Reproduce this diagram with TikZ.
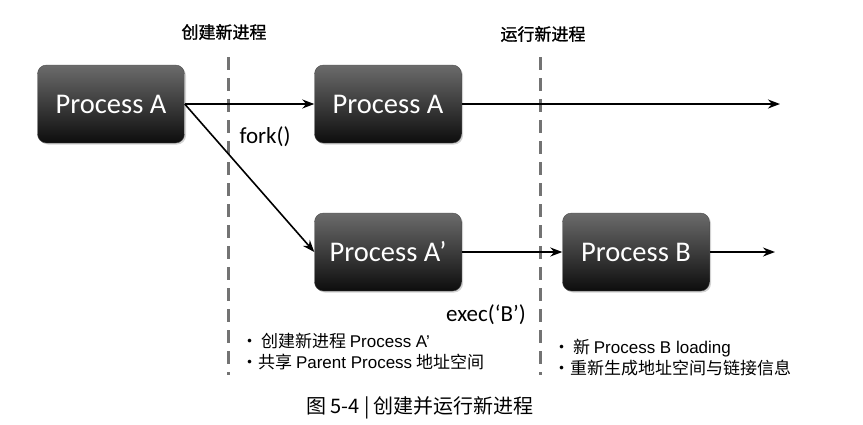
\documentclass[tikz,border=0pt]{standalone}
\usepackage{fontspec}
\setmainfont{Carlito}
\newfontfamily\cjk{Noto Sans CJK SC}
\newfontfamily\cjkhead[FakeBold=1.2]{Noto Sans CJK SC}
\newfontfamily\arialfont{Liberation Sans}
\usetikzlibrary{arrows.meta,shadows}

\tikzset{
  procbox/.style={rounded corners=9pt, top color=black!58, bottom color=black!95,
    draw=black!70, minimum width=147pt, minimum height=78pt, text=white,
    font=\fontsize{28.5}{32}\selectfont,
    drop shadow={opacity=0.35, shadow xshift=1.5pt, shadow yshift=-1.5pt}},
  flow/.style={line width=1.6pt, -{Stealth[length=12pt,width=9pt]}},
  phase/.style={black!55, line width=3pt, dash pattern=on 13pt off 8pt},
  note/.style={align=left, anchor=north west, inner sep=0pt,
    font=\fontsize{17}{21}\selectfont},
}

\begin{document}
\begin{tikzpicture}[x=1pt,y=-1pt]
\useasboundingbox (0,0) rectangle (863,424);
% phase borders
\foreach \x in {228,540} {
  \draw[phase] (\x,57) -- (\x,375);
}
\node[font=\cjkhead\fontsize{17}{20}\selectfont] (create) at (224,32) {创建新进程};
\node[font=\cjkhead\fontsize{17}{20}\selectfont] (run) at (543,34) {运行新进程};
% processes
\node[procbox] (pa)  at (111,104) {Process A};
\node[procbox] (pa2) at (388,104) {Process A};
\node[procbox] (pa3) at (388,252) {Process A’};
\node[procbox] (pb)  at (636,252) {Process B};
\coordinate (endA) at (780,104);
\coordinate (endB) at (775,252);
\draw[flow] (pa.east) -- (pa2.west);
\draw[flow] (pa.east) -- (pa3.west);
\draw[flow] (pa2.east) -- (endA);
\draw[flow] (pa3.east) -- (pb.west);
\draw[flow] (pb.east) -- (endB);
\node[anchor=west, font=\fontsize{23}{26}\selectfont] (fork) at (236,137) {fork()};
\node[font=\fontsize{23}{26}\selectfont] (exec) at (486,315) {exec(‘B’)};
% notes
\node[note] (notel) at (241,333) {{\cjk ·\,创建新进程} {\arialfont Process A’}\\
  {\cjk ·共享} {\arialfont Parent Process} {\cjk 地址空间}};
\node[note] (noter) at (553,339) {{\cjk ·\,新} {\arialfont Process B loading}\\
  {\cjk ·重新生成地址空间与链接信息}};
\node[font=\cjk\fontsize{20}{22}\selectfont] (caption) at (420,408) {图 5-4 | 创建并运行新进程};
\end{tikzpicture}
\end{document}
